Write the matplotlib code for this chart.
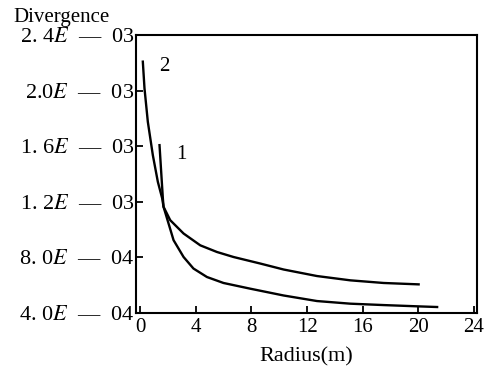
import matplotlib
matplotlib.use("Agg")
import matplotlib.pyplot as plt

plt.rcParams['font.family'] = ['Liberation Serif', 'DejaVu Serif']
plt.rcParams['mathtext.fontset'] = 'stix'

# curve 1: starts at r = 1.4 m, ends lower
radius_1 = [1.39, 1.51, 1.63, 1.68, 2.04, 2.40, 3.12, 3.83, 4.80, 5.99, 7.91,
            10.31, 12.71, 15.11, 17.5, 19.91, 21.35]
div_1 = [1.607e-3, 1.415e-3, 1.225e-3, 1.163e-3, 1.043e-3, 0.923e-3, 0.802e-3, 0.719e-3,
         0.658e-3, 0.615e-3, 0.574e-3, 0.525e-3, 0.485e-3, 0.466e-3, 0.456e-3,
         0.447e-3, 0.442e-3]

# curve 2: starts near r = 0, ends higher
radius_2 = [0.19, 0.31, 0.55, 0.91, 1.27, 1.58, 1.68, 2.16, 3.12, 4.32, 5.52, 6.71, 8.63,
            10.31, 12.71, 15.11, 17.5, 20.02]
div_2 = [2.208e-3, 2.016e-3, 1.775e-3, 1.535e-3, 1.343e-3, 1.225e-3, 1.163e-3, 1.067e-3,
         0.971e-3, 0.886e-3, 0.838e-3, 0.802e-3, 0.755e-3, 0.712e-3, 0.665e-3, 0.634e-3,
         0.615e-3, 0.605e-3]

x_ticks = [0, 4, 8, 12, 16, 20, 24]
y_ticks = [4.0e-4, 8.0e-4, 1.2e-3, 1.6e-3, 2.0e-3, 2.4e-3]
y_labels = [r"4. 0$E$  —  04", r"8. 0$E$  —  04", r"1. 2$E$  —  03",
            r"1. 6$E$  —  03", r"2.0$E$  —  03", r"2. 4$E$  —  03"]

fig = plt.figure(figsize=(4.91, 3.72), dpi=100)
ax = fig.add_axes([0.277, 0.159, 0.694, 0.747])

ax.plot(radius_1, div_1, color='black', linewidth=1.7)
ax.plot(radius_2, div_2, color='black', linewidth=1.7)

ax.text(1.35, 2.17e-3, "2", fontsize=15, ha='left', va='center')
ax.text(2.6, 1.54e-3, "1", fontsize=15, ha='left', va='center')

ax.set_xlim(-0.3, 24.2)
ax.set_ylim(4.0e-4, 2.4e-3)
ax.set_xticks(x_ticks)
ax.set_yticks(y_ticks)
ax.set_yticklabels(y_labels)
ax.tick_params(direction='in', length=5, width=1.3, pad=3)
ax.tick_params(axis='y', labelsize=16, pad=1)
ax.tick_params(axis='x', labelsize=15, pad=4)

for sp in ax.spines.values():
    sp.set_linewidth(1.5)

fig.text(0.027, 0.952, "Divergence", fontsize=15, ha='left', va='center')
ax.set_xlabel("Radius(m)", fontsize=16, labelpad=7)

fig.savefig("out.png", dpi=100)
